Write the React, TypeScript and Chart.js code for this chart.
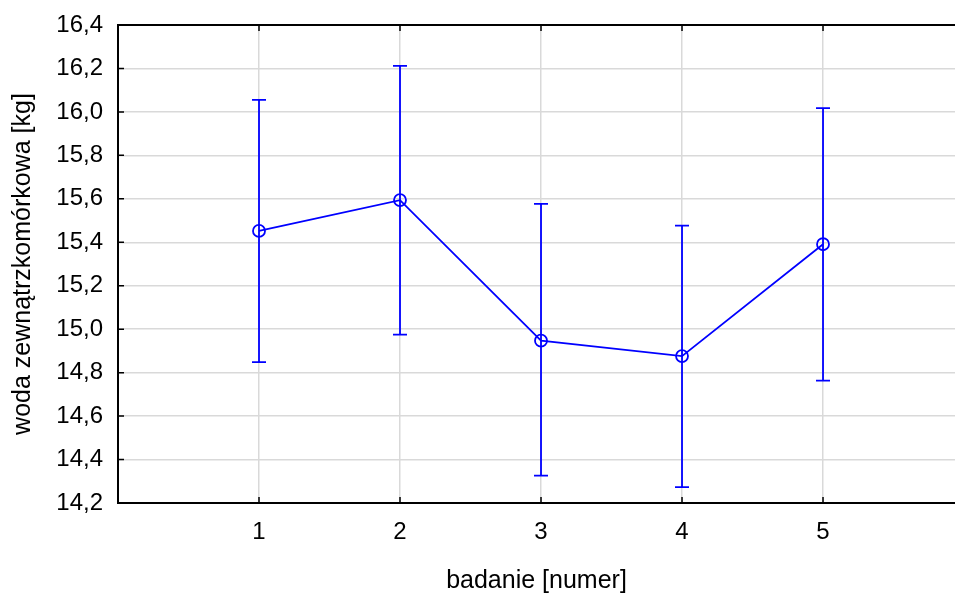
import React, { useEffect, useRef } from "react";
import { Chart, registerables } from "chart.js";

Chart.register(...registerables);

const xValues = [1, 2, 3, 4, 5];
const means = [15.452, 15.594, 14.947, 14.876, 15.391];
const upper = [16.055, 16.212, 15.577, 15.477, 16.017];
const lower = [14.848, 14.975, 14.326, 14.273, 14.763];
const xTicks = [1, 2, 3, 4, 5];
const yTicks = [14.2, 14.4, 14.6, 14.8, 15.0, 15.2, 15.4, 15.6, 15.8, 16.0, 16.2, 16.4];

const FONT = "'Liberation Sans', Arial, sans-serif";
const BLUE = "#0000ff";

const errorBars = {
  id: "errorBars",
  beforeDatasetsDraw(chart: any) {
    const ctx = chart.ctx;
    const xs = chart.scales.x;
    const ys = chart.scales.y;
    ctx.save();
    ctx.strokeStyle = BLUE;
    ctx.lineWidth = 1.8;
    xValues.forEach((xv, i) => {
      const px = xs.getPixelForValue(xv);
      const pt = ys.getPixelForValue(upper[i]);
      const pb = ys.getPixelForValue(lower[i]);
      ctx.beginPath();
      ctx.moveTo(px, pt);
      ctx.lineTo(px, pb);
      ctx.moveTo(px - 7, pt);
      ctx.lineTo(px + 7, pt);
      ctx.moveTo(px - 7, pb);
      ctx.lineTo(px + 7, pb);
      ctx.stroke();
    });
    ctx.restore();
  },
};

const frame = {
  id: "frame",
  afterDraw(chart: any) {
    const ctx = chart.ctx;
    const { left, right, top, bottom } = chart.chartArea;
    const xs = chart.scales.x;
    const ys = chart.scales.y;
    ctx.save();
    ctx.strokeStyle = "#000";
    ctx.lineWidth = 2;
    ctx.beginPath();
    ctx.moveTo(right + 2, top);
    ctx.lineTo(left, top);
    ctx.lineTo(left, bottom);
    ctx.lineTo(right + 2, bottom);
    ctx.stroke();
    ctx.lineWidth = 1.5;
    ctx.beginPath();
    xTicks.forEach((v) => {
      const px = xs.getPixelForValue(v);
      ctx.moveTo(px, top);
      ctx.lineTo(px, top + 6);
      ctx.moveTo(px, bottom);
      ctx.lineTo(px, bottom - 6);
    });
    yTicks.forEach((v) => {
      const py = ys.getPixelForValue(v);
      ctx.moveTo(left, py);
      ctx.lineTo(left + 6, py);
    });
    ctx.stroke();
    ctx.restore();
  },
};

export default function App() {
  const ref = useRef<HTMLCanvasElement>(null);
  useEffect(() => {
    if (!ref.current) return;
    const chart = new Chart(ref.current, {
      type: "line",
      data: {
        datasets: [
          {
            data: xValues.map((x, i) => ({ x, y: means[i] })),
            borderColor: BLUE,
            borderWidth: 1.8,
            pointRadius: 6,
            pointBorderWidth: 1.8,
            pointBorderColor: BLUE,
            pointBackgroundColor: "rgba(0,0,0,0)",
            tension: 0,
          },
        ],
      },
      options: {
        animation: false,
        responsive: false,
        layout: { autoPadding: false, padding: { top: 25, right: 0, left: 0, bottom: 0 } },
        plugins: { legend: { display: false }, tooltip: { enabled: false } },
        scales: {
          x: {
            type: "linear",
            min: 0,
            max: 5.936,
            afterFit: (s: any) => {
              s.height = 92;
              s.paddingLeft = 0;
              s.paddingRight = 0;
            },
            afterBuildTicks: (s: any) => {
              s.ticks = xTicks.map((v) => ({ value: v }));
            },
            grid: { color: "#d9d9d9", lineWidth: 1.5, drawTicks: false },
            border: { display: false },
            ticks: {
              color: "#000",
              padding: 15,
              font: { family: FONT, size: 24 },
              callback: (v: any) => String(v),
            },
            title: {
              display: true,
              text: "badanie [numer]",
              color: "#000",
              font: { family: FONT, size: 25, lineHeight: 1 },
              padding: { top: 0, bottom: 1 },
            },
          },
          y: {
            type: "linear",
            min: 14.2,
            max: 16.4,
            afterFit: (s: any) => {
              s.width = 118;
              s.paddingTop = 0;
              s.paddingBottom = 0;
            },
            afterBuildTicks: (s: any) => {
              s.ticks = yTicks.map((v) => ({ value: v }));
            },
            grid: { color: "#d9d9d9", lineWidth: 1.5, drawTicks: false },
            border: { display: false },
            ticks: {
              color: "#000",
              padding: 15,
              font: { family: FONT, size: 24 },
              callback: (v: any) => Number(v).toFixed(1).replace(".", ","),
            },
            title: {
              display: true,
              text: "woda zewnątrzkomórkowa [kg]",
              color: "#000",
              font: { family: FONT, size: 25, lineHeight: 1 },
              padding: { top: 11, bottom: 0 },
            },
          },
        },
      },
      plugins: [errorBars, frame],
    });
    return () => chart.destroy();
  }, []);
  return (
    <div style={{ position: "absolute", left: 0, top: 0, width: 955, height: 595, background: "#fff" }}>
      <canvas ref={ref} width={955} height={595} style={{ display: "block" }} />
    </div>
  );
}
